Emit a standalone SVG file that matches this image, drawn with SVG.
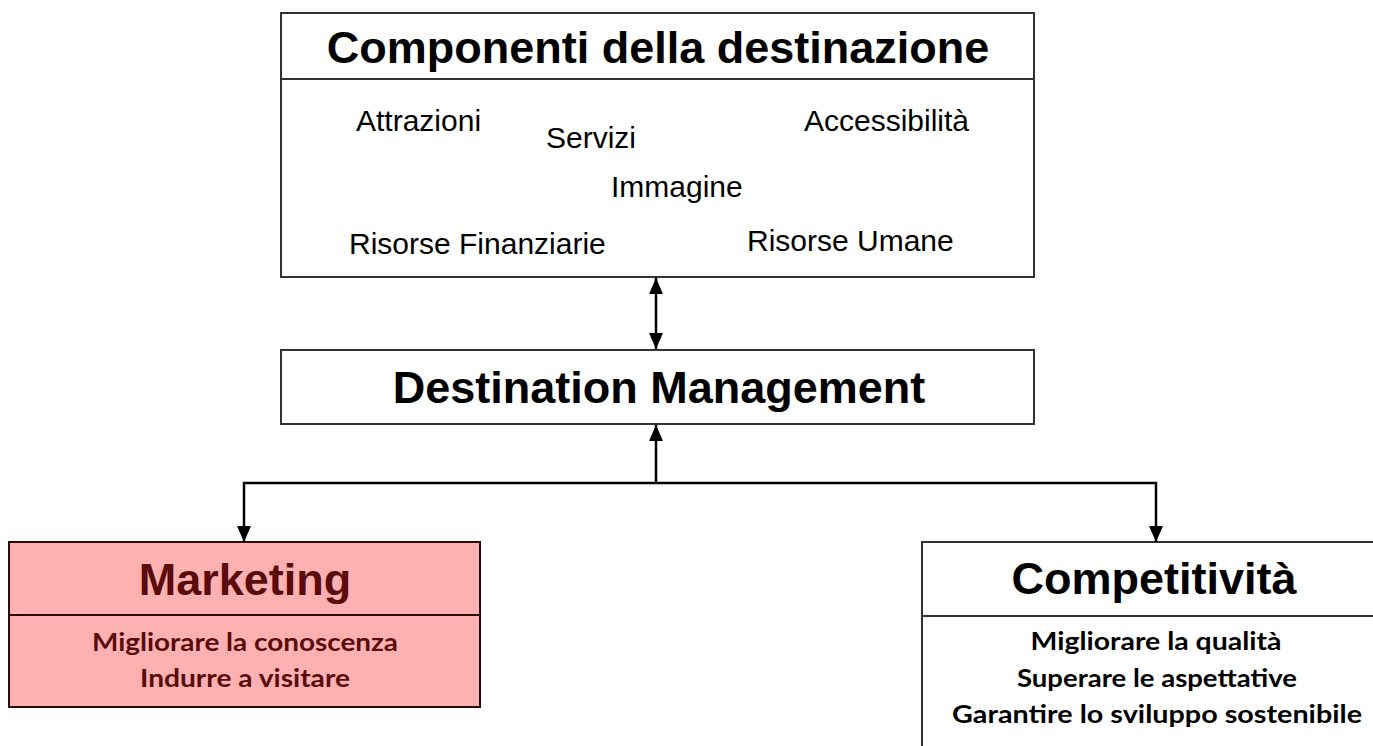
<svg xmlns="http://www.w3.org/2000/svg" width="1373" height="746" viewBox="0 0 1373 746">
  <defs>
    <style>
      .box{fill:#ffffff;stroke:#333333;stroke-width:2}
      .pink{fill:#ffb1b1;stroke:#2b0a0a;stroke-width:2}
      .div{stroke:#333333;stroke-width:2}
      .title{font-family:"Liberation Sans",Arial,sans-serif;font-weight:bold;font-size:45px;fill:#000000;text-anchor:middle}
      .item{font-family:"Liberation Sans",Arial,sans-serif;font-size:30px;fill:#000000}
      .sub{font-family:Lato,"Open Sans",sans-serif;font-weight:bold;font-size:24px;fill:#000000;text-anchor:middle}
      .red{fill:#5a0b0b}
      .conn{stroke:#000000;stroke-width:2.5;fill:none}
    </style>
    <marker id="ah" viewBox="0 0 16 14" refX="16" refY="7" markerWidth="16" markerHeight="14" markerUnits="userSpaceOnUse" orient="auto-start-reverse">
      <path d="M0,0 L16,7 L0,14 z" fill="#000000"/>
    </marker>
  </defs>
  <rect width="1373" height="746" fill="#ffffff"/>

  <g id="componenti">
    <rect class="box" x="281" y="13" width="753" height="264"/>
    <line class="div" x1="281" y1="79" x2="1034" y2="79"/>
    <text class="title" x="658" y="63">Componenti della destinazione</text>
    <text class="item" x="356" y="131">Attrazioni</text>
    <text class="item" x="546" y="148">Servizi</text>
    <text class="item" x="804" y="131">Accessibilità</text>
    <text class="item" x="611" y="197">Immagine</text>
    <text class="item" x="349" y="254">Risorse Finanziarie</text>
    <text class="item" x="747" y="251">Risorse Umane</text>
  </g>

  <g id="destination-management">
    <rect class="box" x="281" y="350" width="753" height="74"/>
    <text class="title" x="659" y="403">Destination Management</text>
  </g>

  <g id="marketing">
    <rect class="pink" x="9" y="542" width="471" height="165"/>
    <line x1="9" y1="615" x2="480" y2="615" stroke="#2b0a0a" stroke-width="2"/>
    <text class="title red" x="245" y="595">Marketing</text>
    <text class="sub red" x="245" y="651" textLength="306" lengthAdjust="spacingAndGlyphs">Migliorare la conoscenza</text>
    <text class="sub red" x="245" y="687" textLength="210" lengthAdjust="spacingAndGlyphs">Indurre a visitare</text>
  </g>

  <g id="competitivita">
    <rect class="box" x="922" y="542" width="470" height="220"/>
    <line class="div" x1="922" y1="616" x2="1373" y2="616"/>
    <text class="title" x="1154" y="594">Competitività</text>
    <text class="sub" x="1156" y="650" textLength="251" lengthAdjust="spacingAndGlyphs">Migliorare la qualità</text>
    <text class="sub" x="1157" y="687" textLength="280" lengthAdjust="spacingAndGlyphs">Superare le aspettative</text>
    <text class="sub" x="1157" y="723" textLength="410" lengthAdjust="spacingAndGlyphs">Garantire lo sviluppo sostenibile</text>
  </g>

  <g id="connectors">
    <line class="conn" x1="656" y1="278" x2="656" y2="349" marker-start="url(#ah)" marker-end="url(#ah)"/>
    <line class="conn" x1="656" y1="483" x2="656" y2="425" marker-end="url(#ah)"/>
    <polyline class="conn" points="244,542 244,483 1156,483 1156,542" marker-start="url(#ah)" marker-end="url(#ah)"/>
  </g>
</svg>
